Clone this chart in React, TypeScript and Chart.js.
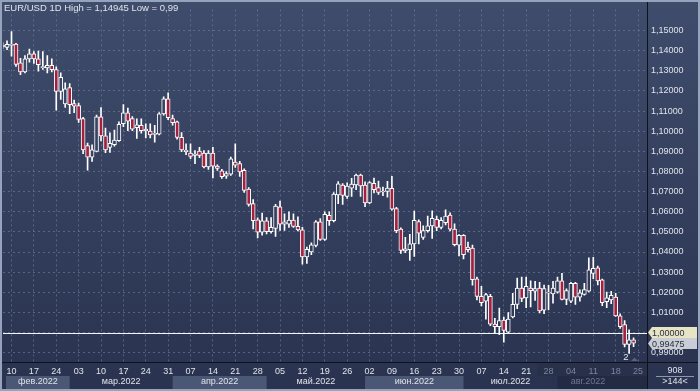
import React, { useEffect, useRef } from "react";
import { Chart, registerables } from "chart.js";
Chart.register(...registerables);

const dates = [
  "08.02","09.02","10.02","11.02","14.02","15.02","16.02","17.02","18.02","21.02","22.02","23.02","24.02","25.02","28.02",
  "01.03","02.03","03.03","04.03","07.03","08.03","09.03","10.03","11.03","14.03","15.03","16.03","17.03","18.03","21.03","22.03","23.03","24.03","25.03","28.03","29.03","30.03","31.03",
  "01.04","04.04","05.04","06.04","07.04","08.04","11.04","12.04","13.04","14.04","15.04","18.04","19.04","20.04","21.04","22.04","25.04","26.04","27.04","28.04","29.04",
  "02.05","03.05","04.05","05.05","06.05","09.05","10.05","11.05","12.05","13.05","16.05","17.05","18.05","19.05","20.05","23.05","24.05","25.05","26.05","27.05","30.05","31.05",
  "01.06","02.06","03.06","06.06","07.06","08.06","09.06","10.06","13.06","14.06","15.06","16.06","17.06","20.06","21.06","22.06","23.06","24.06","27.06","28.06","29.06","30.06",
  "01.07","04.07","05.07","06.07","07.07","08.07","11.07","12.07","13.07","14.07","15.07","18.07","19.07","20.07","21.07","22.07","25.07","26.07","27.07","28.07","29.07",
  "01.08","02.08","03.08","04.08","05.08","08.08","09.08","10.08","11.08","12.08","15.08","16.08","17.08","18.08","19.08","22.08","23.08","24.08"
];

const opens = [
  1.1418,1.1416,1.1426,1.1433,1.1340,1.1294,1.1359,1.1384,1.1359,1.1316,
  1.1314,1.1327,1.1306,1.1197,1.1135,1.1216,1.1137,1.1127,1.1063,1.0928,
  1.0871,1.0900,1.1071,1.0977,1.0920,1.0933,1.0953,1.1037,1.1091,1.1063,
  1.1018,1.1029,1.1002,1.1001,1.0984,1.0985,1.1086,1.1161,1.1063,1.1047,
  1.0969,1.0898,1.0891,1.0880,1.0901,1.0891,1.0823,1.0891,1.0827,1.0803,
  1.0777,1.0787,1.0847,1.0839,1.0806,1.0712,1.0640,1.0560,1.0498,1.0555,
  1.0501,1.0517,1.0624,1.0538,1.0538,1.0559,1.0527,1.0510,1.0376,1.0400,
  1.0433,1.0550,1.0462,1.0582,1.0555,1.0684,1.0733,1.0676,1.0717,1.0733,
  1.0782,1.0733,1.0644,1.0741,1.0720,1.0698,1.0701,1.0716,1.0616,1.0514,
  1.0405,1.0411,1.0440,1.0551,1.0473,1.0506,1.0530,1.0562,1.0522,1.0546,
  1.0584,1.0514,1.0434,1.0483,1.0424,1.0420,1.0267,1.0180,1.0156,1.0180,
  1.0042,1.0029,1.0062,1.0002,1.0078,1.0140,1.0221,1.0172,1.0221,1.0205,
  1.0221,1.0111,1.0199,1.0192,1.0201,1.0257,1.0164,1.0156,1.0245,1.0176,
  1.0189,1.0205,1.0294,1.0322,1.0262,1.0153,1.0162,1.0176,1.0083,1.0039,
  0.9941,0.9964
];
const highs = [
  1.1440,1.1449,1.1495,1.1436,1.1362,1.1375,1.1408,1.1395,1.1398,1.1395,
  1.1375,1.1359,1.1320,1.1290,1.1240,1.1236,1.1154,1.1140,1.1069,1.0941,
  1.0932,1.1080,1.1117,1.1015,1.0992,1.1005,1.1047,1.1132,1.1115,1.1073,
  1.1062,1.1062,1.1036,1.1037,1.1029,1.1093,1.1171,1.1190,1.1080,1.1050,
  1.0993,1.0937,1.0937,1.0904,1.0920,1.0904,1.0904,1.0920,1.0833,1.0810,
  1.0800,1.0871,1.0937,1.0850,1.0813,1.0720,1.0660,1.0570,1.0593,1.0571,
  1.0571,1.0637,1.0653,1.0590,1.0600,1.0590,1.0575,1.0522,1.0424,1.0445,
  1.0556,1.0566,1.0600,1.0600,1.0695,1.0750,1.0740,1.0744,1.0766,1.0787,
  1.0787,1.0749,1.0750,1.0767,1.0752,1.0722,1.0751,1.0776,1.0622,1.0520,
  1.0473,1.0488,1.0603,1.0560,1.0530,1.0578,1.0605,1.0578,1.0571,1.0610,
  1.0595,1.0540,1.0487,1.0486,1.0449,1.0434,1.0276,1.0229,1.0195,1.0190,
  1.0071,1.0122,1.0077,1.0099,1.0195,1.0270,1.0275,1.0275,1.0257,1.0254,
  1.0250,1.0236,1.0234,1.0254,1.0275,1.0294,1.0217,1.0250,1.0249,1.0212,
  1.0245,1.0371,1.0374,1.0330,1.0266,1.0201,1.0205,1.0195,1.0093,1.0059,
  1.0014,0.9974
];
const lows = [
  1.1410,1.1405,1.1372,1.1322,1.1281,1.1290,1.1343,1.1337,1.1298,1.1307,
  1.1290,1.1294,1.1104,1.1158,1.1118,1.1087,1.1092,1.1044,1.0888,1.0806,
  1.0850,1.0897,1.0952,1.0893,1.0895,1.0926,1.0949,1.1023,1.1002,1.1002,
  1.0964,1.0990,1.0966,1.0966,1.0946,1.0981,1.1080,1.1057,1.1030,1.0960,
  1.0898,1.0883,1.0863,1.0839,1.0869,1.0817,1.0810,1.0768,1.0805,1.0766,
  1.0766,1.0780,1.0820,1.0776,1.0696,1.0628,1.0515,1.0470,1.0484,1.0490,
  1.0493,1.0478,1.0507,1.0507,1.0522,1.0522,1.0505,1.0339,1.0343,1.0387,
  1.0425,1.0457,1.0458,1.0532,1.0550,1.0640,1.0636,1.0666,1.0676,1.0709,
  1.0676,1.0625,1.0640,1.0694,1.0686,1.0680,1.0672,1.0608,1.0496,1.0393,
  1.0397,1.0358,1.0378,1.0440,1.0463,1.0498,1.0467,1.0506,1.0515,1.0534,
  1.0505,1.0430,1.0381,1.0366,1.0400,1.0235,1.0162,1.0132,1.0067,1.0034,
  0.9994,0.9990,0.9952,0.9998,1.0073,1.0119,1.0153,1.0124,1.0127,1.0160,
  1.0097,1.0094,1.0113,1.0146,1.0196,1.0162,1.0138,1.0148,1.0140,1.0156,
  1.0186,1.0202,1.0267,1.0237,1.0133,1.0124,1.0143,1.0080,1.0020,0.9928,
  0.9896,0.9930
];
const closes = [
  1.1428,1.1432,1.1430,1.1332,1.1294,1.1359,1.1384,1.1359,1.1330,1.1318,
  1.1327,1.1306,1.1197,1.1267,1.1210,1.1132,1.1124,1.1059,1.0907,1.0871,
  1.0907,1.1071,1.0977,1.0907,1.0940,1.0956,1.1034,1.1091,1.1050,1.1010,
  1.1031,1.1002,1.1010,1.0982,1.0990,1.1086,1.1161,1.1067,1.1042,1.0969,
  1.0907,1.0906,1.0875,1.0886,1.0880,1.0823,1.0891,1.0826,1.0815,1.0774,
  1.0790,1.0863,1.0831,1.0798,1.0706,1.0636,1.0555,1.0498,1.0555,1.0501,
  1.0522,1.0628,1.0538,1.0550,1.0559,1.0527,1.0510,1.0376,1.0413,1.0436,
  1.0550,1.0462,1.0587,1.0555,1.0688,1.0738,1.0681,1.0728,1.0737,1.0782,
  1.0728,1.0644,1.0745,1.0709,1.0696,1.0702,1.0717,1.0613,1.0506,1.0408,
  1.0416,1.0440,1.0557,1.0493,1.0506,1.0530,1.0567,1.0522,1.0557,1.0579,
  1.0514,1.0436,1.0483,1.0387,1.0412,1.0262,1.0180,1.0148,1.0189,1.0042,
  1.0029,1.0059,1.0010,1.0067,1.0140,1.0221,1.0169,1.0229,1.0208,1.0218,
  1.0107,1.0218,1.0196,1.0221,1.0257,1.0164,1.0208,1.0245,1.0176,1.0197,
  1.0213,1.0311,1.0319,1.0257,1.0148,1.0172,1.0185,1.0083,1.0029,0.9941,
  0.9964,0.99475
];

const yTicks = [0.99,1.0,1.01,1.02,1.03,1.04,1.05,1.06,1.07,1.08,1.09,1.1,1.11,1.12,1.13,1.14,1.15];
const weekTicks = [
  "10.02","17.02","24.02","03.03","10.03","17.03","24.03","31.03","07.04","14.04","21.04","28.04",
  "05.05","12.05","19.05","26.05","02.06","09.06","16.06","23.06","30.06","07.07","14.07","21.07",
  "28.07","04.08","11.08","18.08","25.08"
];
const dimFromDate = "28.07";
const months = ["фев.2022","мар.2022","апр.2022","май.2022","июн.2022","июл.2022","авг.2022"];
const monthStarts = ["08.02","01.03","01.04","02.05","01.06","01.07","01.08"];
const levelPrice = 1.0;
const lastPrice = 0.99475;
const titleText = "EUR/USD 1D High = 1,14945 Low = 0,99";
const barsCount = "908";
const visibleCount = ">144<";
const markerText = "2";

const W = 700, H = 391;
const FONT = "'Liberation Sans', Arial, sans-serif";
const RED = "#a51f3e";
const TXT = "#dfe3ea";
const DIM = "#7a869e";
const GRID = "rgba(120,135,165,0.55)";

const idxOf = (d: string) => { const k = dates.indexOf(d); return k >= 0 ? k : dates.length; };
const tickIdx = weekTicks.map(idxOf);
const tickLabel: Record<number, string> = {};
weekTicks.forEach((d, k) => { tickLabel[tickIdx[k]] = d.slice(0, 2); });
const dimIdx = idxOf(dimFromDate);
const fmt = (v: number) => v.toFixed(5).replace(".", ",");

function bgGradient(ctx: CanvasRenderingContext2D) {
  const g = ctx.createLinearGradient(0, 0, 0, H);
  g.addColorStop(0, "#3f4c6b");
  g.addColorStop(1, "#293350");
  return g;
}

export default function App() {
  const ref = useRef<HTMLCanvasElement | null>(null);
  useEffect(() => {
    if (!ref.current) return;
    const wick = dates.map((_, i) => ({ x: i, y: [lows[i], highs[i]] }));
    const body = dates.map((_, i) => ({ x: i, y: [opens[i], closes[i]] }));

    const deco = {
      id: "deco",
      beforeDraw(chart: any) {
        const c = chart.ctx as CanvasRenderingContext2D;
        const xs = chart.scales.x;
        const a = chart.chartArea;
        c.save();
        c.fillStyle = bgGradient(c);
        c.fillRect(0, 0, W, H);
        // dim region in day row and month row
        const dimX = xs.getPixelForValue(dimIdx) - 11;
        c.fillStyle = "#283149";
        c.fillRect(dimX, a.bottom + 1, a.right - dimX, 13);
        // month boxes
        const starts = monthStarts.map(idxOf);
        const edges = starts.map((s, k) => (k === 0 ? 6 : xs.getPixelForValue(s)));
        edges.push(a.right);
        c.font = `9px ${FONT}`;
        c.textAlign = "center";
        c.textBaseline = "middle";
        months.forEach((m, k) => {
          const x0 = edges[k], x1 = edges[k + 1];
          const isLast = k === months.length - 1;
          if (isLast) {
            c.fillStyle = "#222b42";
            c.fillRect(x0, 376, x1 - x0, 13);
          } else if (k % 2 === 0) {
            c.fillStyle = "#4a5775";
            c.fillRect(x0, 376, x1 - x0, 13);
          }
          c.fillStyle = isLast ? "#6c7890" : TXT;
          const cx = isLast ? x0 + (x1 - x0) * 0.34 : (x0 + x1) / 2;
          c.fillText(m, cx, 382);
        });
        c.restore();
      },
      beforeDatasetsDraw(chart: any) {
        const c = chart.ctx as CanvasRenderingContext2D;
        const a = chart.chartArea;
        const y = Math.round(chart.scales.y.getPixelForValue(levelPrice)) + 0.5;
        c.save();
        c.strokeStyle = "#f2f4f8";
        c.lineWidth = 1;
        c.beginPath();
        c.moveTo(a.left, y);
        c.lineTo(a.right, y);
        c.stroke();
        c.restore();
      },
      afterDraw(chart: any) {
        const c = chart.ctx as CanvasRenderingContext2D;
        const a = chart.chartArea;
        const ys = chart.scales.y;
        const xs = chart.scales.x;
        c.save();
        // title
        c.font = `9.5px ${FONT}`;
        c.fillStyle = TXT;
        c.textAlign = "left";
        c.textBaseline = "middle";
        c.fillText(titleText, 4, 8.5);
        // price tags
        const tag = (v: number, bg: string, yc: number) => {
          c.fillStyle = bg;
          c.beginPath();
          c.moveTo(a.right + 1, yc);
          c.lineTo(a.right + 5, yc - 5.5);
          c.lineTo(697, yc - 5.5);
          c.lineTo(697, yc + 5.5);
          c.lineTo(a.right + 5, yc + 5.5);
          c.closePath();
          c.fill();
          c.fillStyle = "#2a2f3a";
          c.font = `9px ${FONT}`;
          c.textAlign = "left";
          c.fillText(fmt(v), a.right + 5, yc + 0.5);
        };
        const yl = ys.getPixelForValue(levelPrice);
        const yp = ys.getPixelForValue(lastPrice);
        tag(levelPrice, "#e6e4c4", yl);
        tag(lastPrice, "#c9cdd6", Math.max(yp, yl + 11));
        // marker
        c.fillStyle = TXT;
        c.font = `9.5px ${FONT}`;
        c.textAlign = "center";
        c.fillText(markerText, xs.getPixelForValue(139.3), 357.5);
        c.fillStyle = "#56617a";
        c.beginPath();
        c.moveTo(631, 361); c.lineTo(634.5, 357.5); c.lineTo(638, 361); c.closePath(); c.fill();
        // corner texts
        c.fillStyle = TXT;
        c.font = `9px ${FONT}`;
        c.fillText(barsCount, 675, 370.5);
        c.fillText(visibleCount, 675, 382);
        c.strokeStyle = "#8b97ad";
        c.lineWidth = 1;
        c.beginPath(); c.moveTo(656, 376.5); c.lineTo(694, 376.5); c.stroke();
        // separators
        c.strokeStyle = "#0e121c";
        c.beginPath();
        c.moveTo(a.right + 0.5, 2); c.lineTo(a.right + 0.5, 389);
        c.moveTo(2, a.bottom + 0.5); c.lineTo(698, a.bottom + 0.5);
        c.stroke();
        // frame
        c.strokeStyle = "#95a3bd";
        c.lineWidth = 2;
        c.strokeRect(1, 1, W - 2, H - 2);
        c.restore();
      },
    };

    const chart = new Chart(ref.current, {
      type: "bar",
      data: {
        datasets: [
          {
            data: body as any,
            order: 0,
            grouped: false,
            barThickness: 4,
            minBarLength: 1,
            borderWidth: 1,
            borderColor: "#ffffff",
            borderSkipped: false,
            backgroundColor: (ctx: any) => {
              const i = ctx.dataIndex;
              if (i === undefined || ctx.type !== "data") return RED;
              return closes[i] < opens[i] ? RED : bgGradient(ctx.chart.ctx);
            },
          } as any,
          {
            data: wick as any,
            order: 1,
            grouped: false,
            barThickness: 1,
            borderWidth: 0,
            backgroundColor: "#ffffff",
          } as any,
        ],
      },
      options: {
        animation: false,
        responsive: false,
        devicePixelRatio: 1,
        layout: { padding: { left: 3, top: 3, right: 0, bottom: 0 } },
        plugins: { legend: { display: false }, tooltip: { enabled: false } },
        scales: {
          x: {
            type: "linear",
            min: 0.1,
            max: 144,
            offset: false,
            afterBuildTicks: (axis: any) => { axis.ticks = tickIdx.map((v) => ({ value: v })); },
            afterFit: (axis: any) => { axis.height = 29; },
            grid: { color: GRID, lineWidth: 1, drawTicks: false, offset: false },
            border: { display: false, dash: [2, 3] },
            ticks: {
              autoSkip: false,
              maxRotation: 0,
              padding: 4,
              font: { family: FONT, size: 9 },
              color: (ctx: any) => (ctx.tick && ctx.tick.value >= dimIdx ? DIM : TXT),
              callback: (v: any) => tickLabel[v as number] ?? "",
            },
          },
          y: {
            position: "right",
            min: 0.98537,
            max: 1.16049,
            afterBuildTicks: (axis: any) => { axis.ticks = yTicks.map((v) => ({ value: v })); },
            afterFit: (axis: any) => { axis.width = 53; },
            grid: { color: GRID, lineWidth: 1, drawTicks: false },
            border: { display: false, dash: [2, 3] },
            ticks: {
              padding: 4,
              font: { family: FONT, size: 9 },
              color: TXT,
              callback: (v: any) => fmt(Number(v)),
            },
          },
        },
      },
      plugins: [deco],
    } as any);
    return () => chart.destroy();
  }, []);

  return (
    <div style={{ position: "fixed", left: 0, top: 0, width: W, height: H }}>
      <canvas ref={ref} width={W} height={H} style={{ display: "block" }} />
    </div>
  );
}
